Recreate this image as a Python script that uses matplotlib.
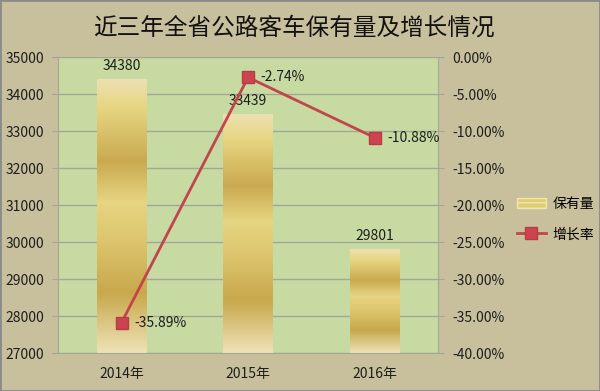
import numpy as np
import matplotlib.pyplot as plt
from matplotlib.colors import LinearSegmentedColormap
from matplotlib.patches import Patch
from matplotlib.lines import Line2D
from matplotlib.ticker import FuncFormatter

plt.rcParams['font.family'] = ['Noto Sans CJK SC', 'DejaVu Sans']

years = ['2014年', '2015年', '2016年']
stock = [34380, 33439, 29801]
growth = [-35.89, -2.74, -10.88]
title = '近三年全省公路客车保有量及增长情况'

bg = '#c8bf9c'
plot_bg = '#c6daa2'
red = '#c4444c'
text_c = '#1e1e1e'

fig = plt.figure(figsize=(6, 3.91), dpi=100, facecolor=bg)
fig.patches.append(plt.Rectangle((0, 0), 1, 1, transform=fig.transFigure,
                                 fill=False, edgecolor='#8a8a8a', lw=2))
ax = fig.add_axes([0.097, 0.097, 0.633, 0.757])
ax.set_facecolor(plot_bg)

x = np.arange(len(years))
bars = ax.bar(x, stock, width=0.39, color='none', zorder=2)

# vertical gold gradient inside each bar
gold = LinearSegmentedColormap.from_list('gold', [
    (0.0, '#ece0b2'), (0.1, '#e8d682'), (0.3, '#c9aa50'), (0.45, '#e7d582'),
    (0.6, '#dcc46c'), (0.78, '#c8a84c'), (1.0, '#eee2b6')])
grad = np.linspace(0, 1, 256).reshape(-1, 1)
for b in bars:
    bx, bw, top = b.get_x(), b.get_width(), b.get_height()
    ax.imshow(grad, cmap=gold, aspect='auto', origin='upper',
              extent=[bx, bx + bw, 27000, top], zorder=2)
    ax.text(bx + bw / 2, top + 180, f'{int(top)}', ha='center', va='bottom',
            fontsize=10, color=text_c, zorder=5)
ax.set_xlim(-0.5, 2.5)
ax.set_ylim(27000, 35000)
ax.set_yticks(range(27000, 35001, 1000))

ax.grid(axis='y', color='#a2a894', lw=1, zorder=1)
ax.set_axisbelow(True)
ax.set_xticks(x)
ax.set_xticklabels(years, fontsize=10, color=text_c)
ax.tick_params(axis='x', length=0, pad=10)
ax.tick_params(axis='y', length=4, color='#a2a894', labelsize=10,
               labelcolor=text_c, pad=6)
for s in ['top', 'right']:
    ax.spines[s].set_visible(False)
for s in ['left', 'bottom']:
    ax.spines[s].set_color('#a2a894')

ax2 = ax.twinx()
ax2.plot(x, growth, color=red, lw=2, marker='s', markersize=9,
         markerfacecolor='#cc4450', markeredgecolor='#b83c44', zorder=4)
ax2.set_ylim(-40, 0)
ax2.set_yticks(np.arange(-40, 0.1, 5))
ax2.yaxis.set_major_formatter(FuncFormatter(lambda v, p: f'{v:.2f}%'))
ax2.tick_params(axis='y', length=4, color='#a2a894', labelsize=10,
                labelcolor=text_c, pad=6)
for s in ['top', 'left', 'bottom']:
    ax2.spines[s].set_visible(False)
ax2.spines['right'].set_color('#a2a894')
for xi, g in zip(x, growth):
    ax2.text(xi + 0.1, g, f'{g:.2f}%', ha='left', va='center',
             fontsize=10, color=text_c, zorder=5)

fig.text(0.49, 0.928, title, ha='center', va='center', fontsize=17,
         color='#111111')

handles = [Patch(facecolor='#e2cc72', edgecolor='#f0e6b0', hatch='---'),
           Line2D([0], [0], color=red, lw=2, marker='s', markersize=9,
                  markerfacecolor='#cc4450', markeredgecolor='#b83c44')]
fig.legend(handles, ['保有量', '增长率'], loc='center left',
           bbox_to_anchor=(0.84, 0.44), frameon=False, fontsize=10,
           labelspacing=1.2, handlelength=2.1, handletextpad=0.5)

fig.savefig('out.png', dpi=100, facecolor=bg)
